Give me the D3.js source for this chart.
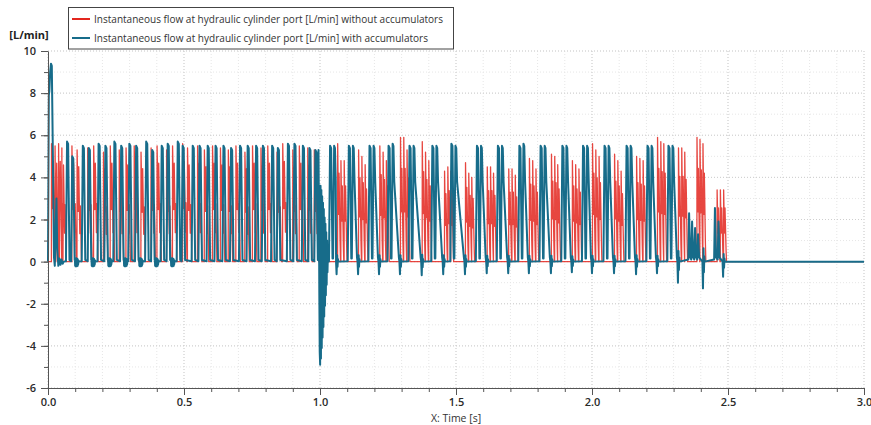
<!DOCTYPE html>
<html><head><meta charset="utf-8">
<script src="https://cdn.jsdelivr.net/npm/d3@7"></script>
<style>
body{margin:0;background:#fff}
svg{display:block}
text{font-family:"Open Sans","Noto Sans",sans-serif}
</style>
</head><body>
<svg id="c" width="871" height="425"></svg>
<script>
// ---------- data ----------
const SERIES_NAMES = [
  "Instantaneous flow at hydraulic cylinder port [L/min] without accumulators",
  "Instantaneous flow at hydraulic cylinder port [L/min] with accumulators"
];
const X_TICKS = [0, 0.5, 1, 1.5, 2, 2.5, 3];
const X_TICK_LABELS = ["0.0","0.5","1.0","1.5","2.0","2.5","3.0"];
const Y_TICKS = [-6,-4,-2,0,2,4,6,8,10];
const Y_TICK_LABELS = ["-6","-4","-2","0","2","4","6","8","10"];
const X_LABEL = "X: Time [s]";
const Y_LABEL = "[L/min]";

// with accumulators (blue): start-up transient
const blueStartT = [0.000,0.003,0.005,0.008,0.011,0.014,0.018,0.022,0.025,0.028,0.031,0.034,0.038,0.042,0.046,0.050,0.054,0.058];
const blueStartV = [0,7.9,8.1,9.0,9.4,9.3,5.0,0.2,-0.2,1.5,3.0,0.6,-0.2,0.15,-0.15,0.1,-0.1,0];
// blue pulses 0..1 s
const bluePulseT = [0.072,0.091,0.130,0.152,0.188,0.213,0.246,0.271,0.301,0.326,0.363,0.385,0.420,0.442,0.479,0.497,0.534,0.559,0.589,0.618,0.647,0.675,0.708,0.736,0.767,0.792,0.826,0.847,0.884,0.908,0.939,0.963,0.985];
const bluePulsePeak = [5.7,5.0,5.5,5.4,5.6,5.5,5.7,5.5,5.6,5.5,5.7,5.3,5.5,5.6,5.7,5.5,5.5,5.5,5.5,5.5,5.5,5.4,5.5,5.5,5.5,5.5,5.5,5.4,5.6,5.6,5.5,5.4,5.3];
// baseline chatter blobs (start times) and their values
const blueBlobT = [0.099,0.160,0.221,0.279,0.335,0.393,0.452];
const blobValues = [0.1,-0.2,0.15,-0.22,0.12,-0.18,0.16,-0.2,0.1,-0.22,0.14,-0.16,0.12,-0.2,0.08,-0.12,0.05,0];
// collapse at t = 1 s
const collapseT = [0.9945,0.996,0.9975,0.999,1.0005,1.002,1.0035,1.005,1.0065,1.008,1.0095,1.011,1.0125,1.014,1.0155,1.017,1.0185,1.02,1.0215,1.023,1.0245,1.026,1.0275,1.029];
const collapseV = [5.3,2.5,-1.5,-4.3,-4.9,3.6,-4.6,3.4,-4.1,3.1,-3.6,2.8,-3.1,2.5,-2.6,2.1,-2.1,1.8,-1.6,1.4,-1.1,1.0,-0.5,0.3];
// grouped pulses after 1 s
const blueGroupT = [1.039,1.108,1.184,1.254,1.331,1.415,1.485,1.579,1.656,1.735,1.813,1.893,1.969,2.048,2.129,2.206,2.283];
const blueGroupPeak1 = [5.5,5.5,5.5,5.5,5.5,5.5,5.6,5.5,5.5,5.5,5.5,5.5,5.5,5.5,5.5,5.5,5.5];
const blueGroupPeak2 = [5.5,5.5,5.5,5.6,5.5,5.5,5.5,5.5,5.5,5.6,5.5,5.5,5.5,5.5,5.5,5.5,5.5];
const blueDipT = [1.061,1.140,1.217,1.294,1.374,1.453,1.533,1.613,1.692,1.768,1.849,1.926,2.000,2.081,2.162,2.239,2.316,2.408,2.482];
const blueDipV = [-0.6,-0.6,-0.6,-0.6,-0.65,-0.6,-0.6,-0.55,-0.55,-0.55,-0.55,-0.5,-0.55,-0.55,-0.6,-0.55,-1.0,-1.27,-0.72];
const blueLateT = [2.357,2.368,2.379,2.390,2.452,2.465];
const blueLateV = [2.3,1.9,1.6,1.3,2.55,1.9];

// without accumulators (red)
const redEarlyT = [0.013,0.026,0.039,0.051,0.088,0.107,0.146,0.168,0.204,0.229,0.262,0.287,0.317,0.342,0.379,0.401,0.436,0.458,0.495,0.513,0.550,0.575,0.605,0.634,0.663,0.691,0.724,0.752,0.783,0.808,0.842,0.863,0.900,0.924,0.955,0.979];
const redEarlyPeak = [5.6,5.5,5.6,5.4,5.5,5.3,5.4,5.5,5.2,5.5,5.3,5.4,5.5,5.2,5.4,5.5,5.3,5.5,5.6,5.4,5.5,5.3,5.5,5.4,5.3,5.5,5.2,5.5,5.4,5.5,5.2,5.6,5.3,5.5,5.4,5.3];
const redLateT = [1.065,1.077,1.089, 1.142,1.154,1.166, 1.220,1.232,1.244, 1.296,1.308,1.320, 1.376,1.388,1.400, 1.458,1.470,1.481, 1.535,1.547,1.558, 1.615,1.627,1.638, 1.694,1.706,1.718, 1.770,1.782,1.794, 1.851,1.863,1.874, 1.928,1.940,1.952, 2.002,2.014,2.026, 2.083,2.095,2.107, 2.164,2.176,2.188, 2.241,2.253,2.264, 2.318,2.330,2.341, 2.386,2.397,2.408, 2.460,2.472,2.484];
const redLatePeak = [5.6,4.8,4.8, 5.3,5.0,4.6, 5.5,5.2,4.8, 5.9,5.9,5.3, 5.7,5.2,4.8, 4.3,4.5,4.3, 4.7,4.2,4.0, 4.5,4.5,4.2, 4.4,4.4,4.1, 4.9,4.8,4.4, 5.1,5.0,4.6, 4.8,4.6,4.4, 5.6,5.3,5.0, 5.1,4.8,4.3, 5.0,4.9,4.8, 5.9,5.7,5.6, 5.4,5.4,5.2, 5.9,5.8,5.6, 3.4,3.4,3.4];

// ---------- build point tables ----------
const blue = [];
blueStartT.forEach((t,i)=>blue.push([t, blueStartV[i]]));
bluePulseT.forEach((t,i)=>{
  const p = bluePulsePeak[i];
  blue.push([t-0.006,0.02],[t-0.002,p],[t+0.002,p*0.98],[t+0.007,0.08]);
});
blueBlobT.forEach(t=>blobValues.forEach((v,k)=>blue.push([t+k*0.0008, v])));
collapseT.forEach((t,i)=>blue.push([t, collapseV[i]]));
blue.push([1.032,0]);
blueGroupT.forEach((t,i)=>{
  const p1 = blueGroupPeak1[i], p2 = blueGroupPeak2[i], t2 = t+0.015, d = blueDipT[i];
  blue.push([t-0.006,0.02],[t-0.002,p1],[t+0.002,p1*0.98],[t+0.007,0.15]);
  blue.push([t2-0.006,0.15],[t2-0.002,p2],[t2+0.001,p2*0.98],[t2+0.004,3.8],[Math.max(t2+0.005,d-0.004),0.2]);
});
blueDipT.forEach((d,i)=>{
  const v = blueDipV[i];
  blue.push([d-0.002,0],[d,v],[d+0.002,-v*0.5],[d+0.0035,v*0.4],[d+0.005,-v*0.2],[d+0.0065,0]);
});
blueLateT.forEach((t,i)=>blue.push([t-0.003,0.1],[t,blueLateV[i]],[t+0.004,0.2]));
blue.push([2.49,0],[3,0]);
blue.sort((a,b)=>a[0]-b[0]);

const red = [[0,0]];
redEarlyT.forEach((t,i)=>{
  const p = redEarlyPeak[i];
  red.push([t-0.0005,0],[t,p],[t+0.004,p*0.45],[t+0.006,p*0.85],[t+0.010,p*0.25],[t+0.012,p*0.5],[t+0.016,0]);
});
redLateT.forEach((t,i)=>{
  const p = redLatePeak[i];
  red.push([t-0.0004,0],[t,p],[t+0.003,p*0.4],[t+0.005,p*0.75],[t+0.009,p*0.15],[t+0.0105,0]);
});
red.push([2.495,0],[3,0]);
red.sort((a,b)=>a[0]-b[0]);

// ---------- drawing ----------
const svg = d3.select("#c");
const x = d3.scaleLinear().domain([0,3]).range([48,864]);
const y = d3.scaleLinear().domain([-6,10]).range([388,51]);
const X_MINOR = d3.range(0,30.5,1).map(d=>d/10);
const Y_MINOR = d3.range(-6,10.5,1);

const grid = svg.append("g");
grid.selectAll("line.vmin").data(X_MINOR).join("line")
  .attr("x1",d=>x(d)).attr("x2",d=>x(d)).attr("y1",y(-6)).attr("y2",y(10))
  .attr("stroke","#e6e6e6").attr("stroke-dasharray","1,2");
grid.selectAll("line.hmin").data(Y_MINOR).join("line")
  .attr("x1",x(0)).attr("x2",x(3)).attr("y1",d=>y(d)).attr("y2",d=>y(d))
  .attr("stroke","#e6e6e6").attr("stroke-dasharray","1,2");
grid.selectAll("line.vmaj").data(X_TICKS).join("line")
  .attr("x1",d=>x(d)).attr("x2",d=>x(d)).attr("y1",y(-6)).attr("y2",y(10))
  .attr("stroke","#cfcfcf").attr("stroke-dasharray","1,2");
grid.selectAll("line.hmaj").data(Y_TICKS).join("line")
  .attr("x1",x(0)).attr("x2",x(3)).attr("y1",d=>y(d)).attr("y2",d=>y(d))
  .attr("stroke","#cfcfcf").attr("stroke-dasharray","1,2");

const line = d3.line().x(d=>x(d[0])).y(d=>y(d[1]));
svg.append("path").datum(red).attr("d",line).attr("fill","none")
  .attr("stroke","#e3261e").attr("stroke-opacity",0.85).attr("stroke-width",1.3).attr("stroke-linejoin","round");
svg.append("path").datum(blue).attr("d",line).attr("fill","none")
  .attr("stroke","#176c8a").attr("stroke-width",2).attr("stroke-linejoin","round");

// axes
function styleAxis(g){
  g.select(".domain").attr("stroke","#555");
  g.selectAll(".tick line").attr("stroke","#555");
  g.selectAll(".tick text").attr("fill","#2a2a2a").attr("font-size",11).attr("font-weight",600)
    .attr("font-family",'"Open Sans","Noto Sans",sans-serif');
}
const gxm = svg.append("g").attr("transform",`translate(0,${y(-6)})`)
  .call(d3.axisBottom(x).tickValues(X_MINOR).tickSize(4).tickFormat(""));
gxm.select(".domain").remove(); gxm.selectAll("line").attr("stroke","#555");
const gym = svg.append("g").attr("transform",`translate(${x(0)},0)`)
  .call(d3.axisLeft(y).tickValues(Y_MINOR).tickSize(4).tickFormat(""));
gym.select(".domain").remove(); gym.selectAll("line").attr("stroke","#555");

svg.append("g").attr("transform",`translate(0,${y(-6)})`)
  .call(d3.axisBottom(x).tickValues(X_TICKS).tickFormat((d,i)=>X_TICK_LABELS[i]).tickSize(7).tickSizeOuter(0).tickPadding(3))
  .call(styleAxis);
svg.append("g").attr("transform",`translate(${x(0)},0)`)
  .call(d3.axisLeft(y).tickValues(Y_TICKS).tickFormat((d,i)=>Y_TICK_LABELS[i]).tickSize(7).tickSizeOuter(0).tickPadding(5))
  .call(styleAxis);

svg.append("text").attr("x",456).attr("y",422).attr("text-anchor","middle")
  .attr("font-size",10.5).attr("fill","#333").text(X_LABEL);
svg.append("text").attr("x",29).attr("y",39).attr("text-anchor","middle")
  .attr("font-size",11).attr("font-weight",700).attr("fill","#222").text(Y_LABEL);

// legend
const lg = svg.append("g");
lg.append("rect").attr("x",68.5).attr("y",7.5).attr("width",385).attr("height",41.5)
  .attr("fill","#fff").attr("stroke","#444").attr("stroke-width",1);
const legColors = ["#e3261e","#176c8a"];
const legY = [19, 38];
const legW = [349, 334];
SERIES_NAMES.forEach((n,i)=>{
  lg.append("line").attr("x1",72).attr("x2",90).attr("y1",legY[i]).attr("y2",legY[i])
    .attr("stroke",legColors[i]).attr("stroke-width",2);
  lg.append("text").attr("x",94).attr("y",legY[i]+4).attr("font-size",11.5).attr("fill","#333")
    .attr("textLength",legW[i]).attr("lengthAdjust","spacingAndGlyphs").text(n);
});
</script>
</body></html>
